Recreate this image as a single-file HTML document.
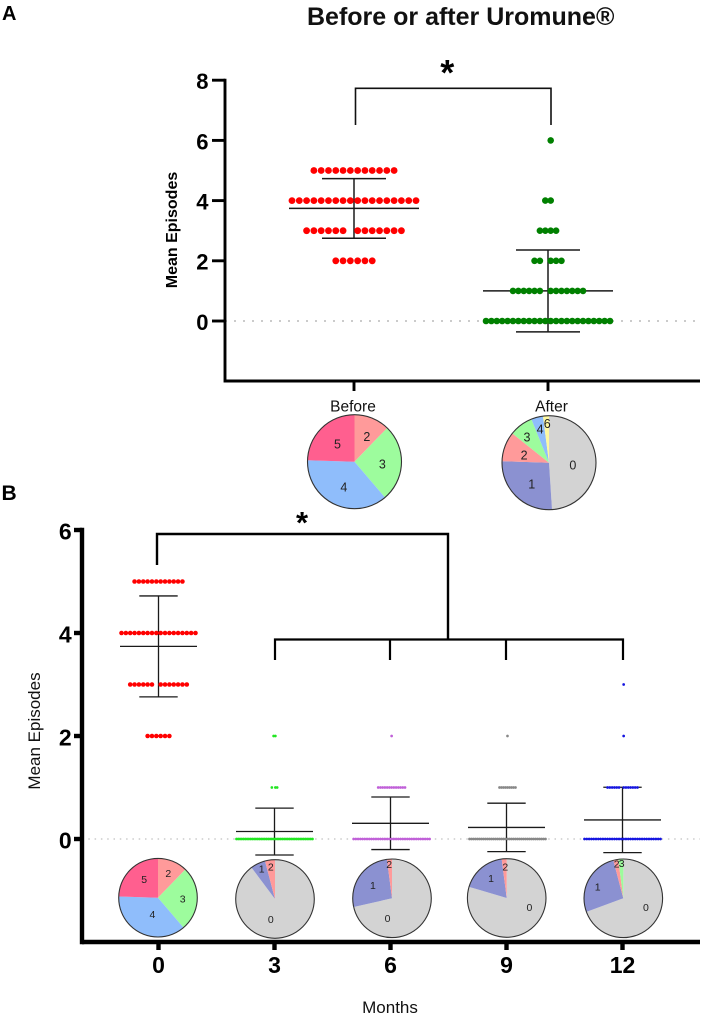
<!DOCTYPE html>
<html lang="en">
<head>
<meta charset="utf-8">
<title>Before or after Uromune</title>
<style>
html,body{margin:0;padding:0;background:#fff;}
svg{display:block;font-family:"Liberation Sans",Arial,sans-serif;}
</style>
</head>
<body>
<svg id="figure" width="704" height="1015" viewBox="0 0 704 1015" xmlns="http://www.w3.org/2000/svg">
  <rect x="0" y="0" width="704" height="1015" fill="#ffffff"/>
  <text x="2" y="20" font-size="20" font-weight="bold" fill="#000">A</text>
  <text x="1.5" y="500" font-size="21" font-weight="bold" fill="#000">B</text>
  <text x="307" y="25" font-size="25" font-weight="bold" fill="#111">Before or after Uromune®</text>
  <text transform="translate(177,230) rotate(-90)" font-size="16" font-weight="bold" text-anchor="middle" fill="#000">Mean Episodes</text>
  <text transform="translate(40,731) rotate(-90)" font-size="17" text-anchor="middle" fill="#111">Mean Episodes</text>
  <text x="390" y="1013" font-size="17" text-anchor="middle" fill="#111">Months</text>
  <path d="M355.5 125V88.3H551V125" fill="none" stroke="#111" stroke-width="1.6"/>
  <text x="447.3" y="85" font-size="36" font-weight="bold" text-anchor="middle" fill="#000">*</text>
  <path d="M157 565V534H448V639" fill="none" stroke="#000" stroke-width="2.4"/>
  <path d="M275 660V639.5H623V660M390 639.5V660M506 639.5V660" fill="none" stroke="#000" stroke-width="2.2"/>
  <text x="302" y="533" font-size="31" font-weight="bold" text-anchor="middle" fill="#000">*</text>
  <g id="panel-a"></g>
  <g id="panel-b"></g>
</svg>
<script>
// ---------- Panel A data ----------
const aCategories = ['Before', 'After'];
const aTickLabels = [8, 6, 4, 2, 0];
const aMeans = [3.74, 1.0];
const aDeviations = [0.99, 1.36];

const beforeScores = [5, 4, 3, 2];
const beforeLeft = [6, 9, 6, 3];
const beforeRight = [6, 9, 7, 3];
const beforeGap = [0, 0, 1, 0];

const afterScores = [6, 4, 3, 2, 1, 0];
const afterLeft = [0, 1, 2, 2, 6, 12];
const afterRight = [1, 1, 2, 3, 7, 12];
const afterGap = [0, 0, 0, 1, 1, 0];

const beforePieLabels = ['2', '3', '4', '5'];
const beforePieCounts = [6, 13, 18, 12];
const afterPieLabels = ['0', '1', '2', '3', '4', '6'];
const afterPieCounts = [24, 13, 5, 4, 2, 1];

// ---------- Panel B data ----------
const bCategories = ['0', '3', '6', '9', '12'];
const bTickLabels = [6, 4, 2, 0];
const bMeans = [3.74, 0.145, 0.305, 0.225, 0.37];
const bDeviations = [0.98, 0.455, 0.51, 0.47, 0.635];

const month0Scores = [5, 4, 3, 2];
const month0Left = [6, 9, 6, 3];
const month0Right = [6, 9, 7, 3];
const month0Gap = [0, 0, 1, 0];

const month3Scores = [2, 1, 0];
const month3Left = [1, 1, 22];
const month3Right = [1, 2, 22];
const month3Gap = [0, 1, 0];

const month6Scores = [2, 1, 0];
const month6Left = [0, 6, 17];
const month6Right = [1, 7, 18];
const month6Gap = [0, 0, 0];

const month9Scores = [2, 1, 0];
const month9Left = [0, 4, 19];
const month9Right = [1, 5, 20];
const month9Gap = [0, 0, 0];

const month12Scores = [3, 2, 1, 0];
const month12Left = [0, 0, 6, 17];
const month12Right = [1, 1, 7, 17];
const month12Gap = [0, 0, 1, 0];

const month0PieLabels = ['2', '3', '4', '5'];
const month0PieCounts = [6, 13, 18, 12];
const month3PieLabels = ['0', '1', '2'];
const month3PieCounts = [44, 3, 2];
const month6PieLabels = ['0', '1', '2'];
const month6PieCounts = [35, 13, 1];
const month9PieLabels = ['0', '1', '2'];
const month9PieCounts = [39, 9, 1];
const month12PieLabels = ['0', '1', '2', '3'];
const month12PieCounts = [34, 13, 1, 1];

// ---------- Helpers ----------
const SVG_NS = 'http://www.w3.org/2000/svg';
const sliceColor = {'0': '#d3d3d3', '1': '#8b91d1', '2': '#ff9a9a', '3': '#9dfc9d', '4': '#8fbdfb', '5': '#ff5f8f', '6': '#fdf8a0'};

function mk(parent, tag, attrs) {
  const el = document.createElementNS(SVG_NS, tag);
  Object.keys(attrs).forEach(function (k) { el.setAttribute(k, attrs[k]); });
  parent.appendChild(el);
  return el;
}

function yScaleA(v) { return 321 - v * 30.1; }
function yScaleB(v) { return 839 - v * 51.5; }
function xBandA(i) { return 354 + i * 194; }
function xBandB(i) { return 158.5 + i * 116; }

function drawErrorBar(parent, name, cx, mean, sd, yScale, meanHalf, capHalf, width) {
  const g = mk(parent, 'g', {stroke: '#1a1a1a', 'stroke-width': width, fill: 'none'});
  
  
  const hi = yScale(mean + sd), lo = yScale(mean - sd), m = yScale(mean);
  mk(g, 'line', {x1: cx, x2: cx, y1: hi, y2: lo});
  mk(g, 'line', {x1: cx - capHalf, x2: cx + capHalf, y1: hi, y2: hi});
  mk(g, 'line', {x1: cx - capHalf, x2: cx + capHalf, y1: lo, y2: lo});
  mk(g, 'line', {x1: cx - meanHalf, x2: cx + meanHalf, y1: m, y2: m});
}

function drawSwarm(parent, name, cx, scores, left, right, gap, yScale, span, radius, color) {
  const g = mk(parent, 'g', {fill: color});
  
  
  let widest = 2;
  scores.forEach(function (s, r) { widest = Math.max(widest, left[r] + right[r]); });
  const step = span / (widest - 1);
  scores.forEach(function (s, r) {
    const y = yScale(s);
    for (let i = 0; i < left[r]; i++) {
      const dotL = mk(g, 'circle', {cx: cx - (gap[r] + i + 0.5) * step, cy: y, r: radius});
      
      
    }
    for (let j = 0; j < right[r]; j++) {
      const dotR = mk(g, 'circle', {cx: cx + (j + 0.5) * step, cy: y, r: radius});
      
      
    }
  });
}

// labelDistance / labelTurn hold only label placement relative to each slice's mid-angle.
function drawPie(parent, name, cx, cy, R, labels, counts, labelDistance, labelTurn, fontSize) {
  const g = mk(parent, 'g', {});
  
  
  const total = counts.reduce(function (a, b) { return a + b; }, 0);
  let acc = 0;
  const pt = function (deg, rad) {
    const t = deg * Math.PI / 180;
    return [cx + rad * Math.sin(t), cy - rad * Math.cos(t)];
  };
  const texts = [];
  counts.forEach(function (c, i) {
    const a0 = acc / total * 360;
    acc += c;
    const a1 = acc / total * 360;
    const p0 = pt(a0, R), p1 = pt(a1, R);
    const slice = mk(g, 'path', {
      d: 'M' + cx + ' ' + cy + 'L' + p0[0] + ' ' + p0[1] + 'A' + R + ' ' + R + ' 0 ' + (a1 - a0 > 180 ? 1 : 0) + ' 1 ' + p1[0] + ' ' + p1[1] + 'Z',
      fill: sliceColor[labels[i]]
    });
    
    
    texts.push(pt((a0 + a1) / 2 + labelTurn[i], labelDistance[i]));
  });
  const rim = mk(g, 'circle', {cx: cx, cy: cy, r: R, fill: 'none', stroke: '#333', 'stroke-width': 1.1});
  
  
  texts.forEach(function (p, i) {
    const t = mk(g, 'text', {x: p[0], y: p[1] + fontSize * 0.36, 'font-size': fontSize, 'text-anchor': 'middle', fill: '#222'});
    t.textContent = labels[i];
    
    
  });
}

function drawAxes(parent, name, axisX, axisY, right, ticks, yScale, lw, yTickLen, xTickLen, labelGap, fontSize, cats, xBand, zeroDash, zeroWidth) {
  const zero = mk(parent, 'line', {x1: axisX, x2: right, y1: yScale(0), y2: yScale(0), stroke: '#cbcbcb', 'stroke-width': zeroWidth, 'stroke-dasharray': zeroDash});
  
  
  const top = yScale(ticks[0]);
  const yAxis = mk(parent, 'line', {x1: axisX, x2: axisX, y1: top - lw / 2, y2: axisY + lw / 2, stroke: '#000', 'stroke-width': lw});
  
  
  const xAxis = mk(parent, 'line', {x1: axisX, x2: right, y1: axisY, y2: axisY, stroke: '#000', 'stroke-width': lw});
  
  
  ticks.forEach(function (v) {
    const y = yScale(v);
    const tick = mk(parent, 'line', {x1: axisX - yTickLen, x2: axisX, y1: y, y2: y, stroke: '#000', 'stroke-width': lw});
    
    
    const label = mk(parent, 'text', {x: axisX - yTickLen - labelGap, y: y + 1 + fontSize * 0.36, 'font-size': fontSize, 'font-weight': 'bold', 'text-anchor': 'end', fill: '#000'});
    label.textContent = v;
    
    
  });
  cats.forEach(function (c, i) {
    const tick = mk(parent, 'line', {x1: xBand(i), x2: xBand(i), y1: axisY, y2: axisY + xTickLen, stroke: '#000', 'stroke-width': lw});
    
    
  });
}

// ---------- Panel A ----------
(function () {
  const root = document.getElementById('panel-a');
  drawAxes(root, 'panel-a', 225, 381, 700, aTickLabels, yScaleA, 2.9, 13, 10, 3.5, 22, aCategories, xBandA, '2 7', 2.1);

  drawErrorBar(root, 'before', xBandA(0), aMeans[0], aDeviations[0], yScaleA, 65, 32, 1.5);
  drawErrorBar(root, 'after', xBandA(1), aMeans[1], aDeviations[1], yScaleA, 65, 32, 1.5);
  drawSwarm(root, 'before', xBandA(0), beforeScores, beforeLeft, beforeRight, beforeGap, yScaleA, 124, 3.4, '#ff0000');
  drawSwarm(root, 'after', xBandA(1), afterScores, afterLeft, afterRight, afterGap, yScaleA, 124, 3.3, '#008000');

  aCategories.forEach(function (c, i) {
    const label = mk(root, 'text', {x: xBandA(i) + (i ? 3.5 : -1), y: 411.5, 'font-size': 15.5, 'text-anchor': 'middle', fill: '#111'});
    label.textContent = c;
    
    
  });

  drawPie(root, 'before', 354.5, 461.7, 47, beforePieLabels, beforePieCounts, [28, 28, 27.5, 24.5], [4, 3, -3, 0], 12.5);
  drawPie(root, 'after', 549, 462.7, 47, afterPieLabels, afterPieCounts, [24, 27.4, 26, 33.7, 35, 39.3], [7, -5, -3, -4, 0, 1], 12.5);
})();

// ---------- Panel B ----------
(function () {
  const root = document.getElementById('panel-b');
  drawAxes(root, 'panel-b', 82, 942, 700, bTickLabels, yScaleB, 4.4, 8, 8, 2.3, 23, bCategories, xBandB, '1.5 4.8', 1.5);

  bCategories.forEach(function (c, i) {
    drawErrorBar(root, 'month-' + c, xBandB(i), bMeans[i], bDeviations[i], yScaleB, 38.5, 19.2, 1.3);
    const label = mk(root, 'text', {x: xBandB(i), y: 973, 'font-size': 23, 'font-weight': 'bold', 'text-anchor': 'middle', fill: '#000'});
    label.textContent = c;
    
    
  });

  drawSwarm(root, 'month-0', xBandB(0), month0Scores, month0Left, month0Right, month0Gap, yScaleB, 74, 2.3, '#ff0000');
  drawSwarm(root, 'month-3', xBandB(1), month3Scores, month3Left, month3Right, month3Gap, yScaleB, 76, 1.35, '#22e622');
  drawSwarm(root, 'month-6', xBandB(2), month6Scores, month6Left, month6Right, month6Gap, yScaleB, 76, 1.35, '#c060d8');
  drawSwarm(root, 'month-9', xBandB(3), month9Scores, month9Left, month9Right, month9Gap, yScaleB, 76, 1.35, '#888888');
  drawSwarm(root, 'month-12', xBandB(4), month12Scores, month12Left, month12Right, month12Gap, yScaleB, 76, 1.35, '#1414e0');

  drawPie(root, 'month-0', 158, 897.7, 39.3, month0PieLabels, month0PieCounts, [26.4, 24.7, 17.3, 22.9], [1, 0, -7, 7], 10.5);
  drawPie(root, 'month-3', 275, 899, 39.3, month3PieLabels, month3PieCounts, [20.8, 33, 32.6], [30, 2, 0], 10.5);
  drawPie(root, 'month-6', 392, 898.3, 39.3, month6PieLabels, month6PieCounts, [20.5, 23.2, 34], [64, 0, -1], 10.5);
  drawPie(root, 'month-9', 506.7, 898, 39.3, month9PieLabels, month9PieCounts, [24.5, 25.2, 31.3], [-31, 2, 1], 10.5);
  drawPie(root, 'month-12', 623.3, 898.3, 39.3, month12PieLabels, month12PieCounts, [24.4, 28.2, 35, 35], [-13, -3, 0, 1], 10.5);
})();
</script>
</body>
</html>
